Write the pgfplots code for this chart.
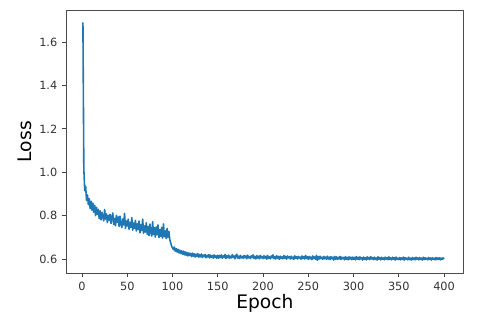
\documentclass[border=0pt]{standalone}
\usepackage{pgfplots}
\pgfplotsset{compat=1.18}
\usepackage{fontspec}
\setmainfont{DejaVu Sans}
\definecolor{mplblue}{HTML}{1F77B4}
\begin{document}
\begin{tikzpicture}
\path[use as bounding box] (-49.5pt,-36.75pt) rectangle (310.5pt,204.75pt);
\begin{axis}[
  at={(0,0)}, anchor=south west,
  scale only axis, width=298.3pt, height=197pt,
  xmin=-17.7, xmax=421.7, ymin=0.5355, ymax=1.746,
  xtick={0,50,100,150,200,250,300,350,400},
  ytick={0.6,0.8,1.0,1.2,1.4,1.6},
  yticklabel style={/pgf/number format/.cd,fixed,fixed zerofill,precision=1},
  /pgf/number format/assume math mode=true,
  tick label style={font=\fontsize{8.5pt}{10pt}\selectfont, color=black!80},
  tick align=outside, major tick length=3pt,
  tick style={black!75, line width=0.6pt},
  xtick pos=bottom, ytick pos=left,
  axis line style={black!70, line width=0.7pt},
  xlabel={Epoch}, ylabel={Loss},
  label style={font=\fontsize{14pt}{16pt}\selectfont},
  xlabel style={yshift=3.5pt},
  ylabel style={yshift=-1.5pt},
]
\addplot[mplblue, line width=1.2pt, line join=round] coordinates {
(1,1.690) (2,1.015) (3,0.915) (4,0.935) (5,0.870) (6,0.895) (7,0.850) (8,0.878) (9,0.832) (10,0.866)
(11,0.825) (12,0.858) (13,0.815) (14,0.847) (15,0.800) (16,0.838) (17,0.806) (18,0.829) (19,0.786) (20,0.822)
(21,0.781) (22,0.815) (23,0.792) (24,0.776) (25,0.828) (26,0.784) (27,0.808) (28,0.768) (29,0.801) (30,0.779)
(31,0.806) (32,0.764) (33,0.792) (34,0.812) (35,0.759) (36,0.787) (37,0.753) (38,0.801) (39,0.770) (40,0.794)
(41,0.750) (42,0.797) (43,0.762) (44,0.745) (45,0.785) (46,0.757) (47,0.810) (48,0.741) (49,0.775) (50,0.752)
(51,0.784) (52,0.737) (53,0.769) (54,0.746) (55,0.791) (56,0.733) (57,0.766) (58,0.741) (59,0.778) (60,0.729)
(61,0.763) (62,0.736) (63,0.775) (64,0.721) (65,0.758) (66,0.731) (67,0.784) (68,0.719) (69,0.752) (70,0.724)
(71,0.767) (72,0.714) (73,0.749) (74,0.708) (75,0.761) (76,0.722) (77,0.706) (78,0.772) (79,0.713) (80,0.744)
(81,0.701) (82,0.748) (83,0.712) (84,0.757) (85,0.699) (86,0.735) (87,0.705) (88,0.746) (89,0.696) (90,0.762)
(91,0.703) (92,0.730) (93,0.694) (94,0.741) (95,0.700) (96,0.727) (97,0.689) (98,0.674) (99,0.659) (100,0.652)
(101,0.643) (102,0.655) (103,0.636) (104,0.648) (105,0.632) (106,0.645) (107,0.628) (108,0.641) (109,0.625) (110,0.638)
(111,0.622) (112,0.636) (113,0.619) (114,0.633) (115,0.617) (116,0.630) (117,0.614) (118,0.628) (119,0.616) (120,0.626)
(121,0.611) (122,0.627) (123,0.613) (124,0.624) (125,0.609) (126,0.622) (127,0.612) (128,0.625) (129,0.608) (130,0.620)
(131,0.610) (132,0.623) (133,0.607) (134,0.618) (135,0.611) (136,0.621) (137,0.606) (138,0.617) (139,0.609) (140,0.620)
(141,0.605) (142,0.618) (143,0.608) (144,0.616) (145,0.604) (146,0.619) (147,0.607) (148,0.615) (149,0.603) (150,0.617)
(151,0.604) (152,0.617) (153,0.607) (154,0.619) (155,0.603) (156,0.614) (157,0.608) (158,0.621) (159,0.602) (160,0.615)
(161,0.606) (162,0.618) (163,0.603) (164,0.613) (165,0.605) (166,0.620) (167,0.607) (168,0.614) (169,0.601) (170,0.616)
(171,0.622) (172,0.604) (173,0.613) (174,0.602) (175,0.617) (176,0.605) (177,0.612) (178,0.603) (179,0.616) (180,0.606)
(181,0.614) (182,0.601) (183,0.618) (184,0.605) (185,0.611) (186,0.602) (187,0.615) (188,0.607) (189,0.619) (190,0.603)
(191,0.612) (192,0.600) (193,0.616) (194,0.604) (195,0.613) (196,0.601) (197,0.617) (198,0.605) (199,0.611) (200,0.602)
(201,0.615) (202,0.604) (203,0.612) (204,0.599) (205,0.617) (206,0.603) (207,0.610) (208,0.601) (209,0.614) (210,0.605)
(211,0.619) (212,0.602) (213,0.611) (214,0.600) (215,0.615) (216,0.604) (217,0.612) (218,0.598) (219,0.613) (220,0.603)
(221,0.610) (222,0.601) (223,0.616) (224,0.603) (225,0.612) (226,0.599) (227,0.614) (228,0.605) (229,0.611) (230,0.600)
(231,0.613) (232,0.602) (233,0.609) (234,0.598) (235,0.615) (236,0.603) (237,0.611) (238,0.600) (239,0.612) (240,0.604)
(241,0.609) (242,0.599) (243,0.614) (244,0.602) (245,0.611) (246,0.600) (247,0.616) (248,0.603) (249,0.610) (250,0.598)
(251,0.612) (252,0.601) (253,0.609) (254,0.597) (255,0.614) (256,0.602) (257,0.610) (258,0.599) (259,0.617) (260,0.594)
(261,0.611) (262,0.600) (263,0.613) (264,0.602) (265,0.608) (266,0.598) (267,0.612) (268,0.601) (269,0.609) (270,0.599)
(271,0.613) (272,0.600) (273,0.609) (274,0.597) (275,0.611) (276,0.601) (277,0.608) (278,0.595) (279,0.612) (280,0.599)
(281,0.610) (282,0.598) (283,0.608) (284,0.600) (285,0.612) (286,0.597) (287,0.609) (288,0.601) (289,0.607) (290,0.596)
(291,0.611) (292,0.599) (293,0.607) (294,0.596) (295,0.610) (296,0.600) (297,0.608) (298,0.597) (299,0.609) (300,0.598)
(301,0.607) (302,0.596) (303,0.611) (304,0.599) (305,0.608) (306,0.597) (307,0.610) (308,0.600) (309,0.606) (310,0.595)
(311,0.609) (312,0.598) (313,0.606) (314,0.596) (315,0.610) (316,0.599) (317,0.607) (318,0.597) (319,0.611) (320,0.600)
(321,0.606) (322,0.597) (323,0.609) (324,0.598) (325,0.605) (326,0.595) (327,0.610) (328,0.599) (329,0.607) (330,0.596)
(331,0.608) (332,0.598) (333,0.605) (334,0.596) (335,0.609) (336,0.599) (337,0.606) (338,0.597) (339,0.610) (340,0.598)
(341,0.605) (342,0.596) (343,0.608) (344,0.599) (345,0.606) (346,0.595) (347,0.609) (348,0.598) (349,0.604) (350,0.597)
(351,0.607) (352,0.596) (353,0.605) (354,0.598) (355,0.609) (356,0.595) (357,0.606) (358,0.599) (359,0.604) (360,0.596)
(361,0.608) (362,0.597) (363,0.604) (364,0.595) (365,0.607) (366,0.598) (367,0.605) (368,0.596) (369,0.608) (370,0.599)
(371,0.605) (372,0.596) (373,0.607) (374,0.598) (375,0.604) (376,0.595) (377,0.608) (378,0.597) (379,0.606) (380,0.599)
(381,0.604) (382,0.596) (383,0.607) (384,0.598) (385,0.605) (386,0.595) (387,0.606) (388,0.599) (389,0.604) (390,0.596)
(391,0.607) (392,0.597) (393,0.605) (394,0.598) (395,0.606) (396,0.596) (397,0.604) (398,0.599) (399,0.605) (400,0.600)
};
\end{axis}
\end{tikzpicture}
\end{document}
